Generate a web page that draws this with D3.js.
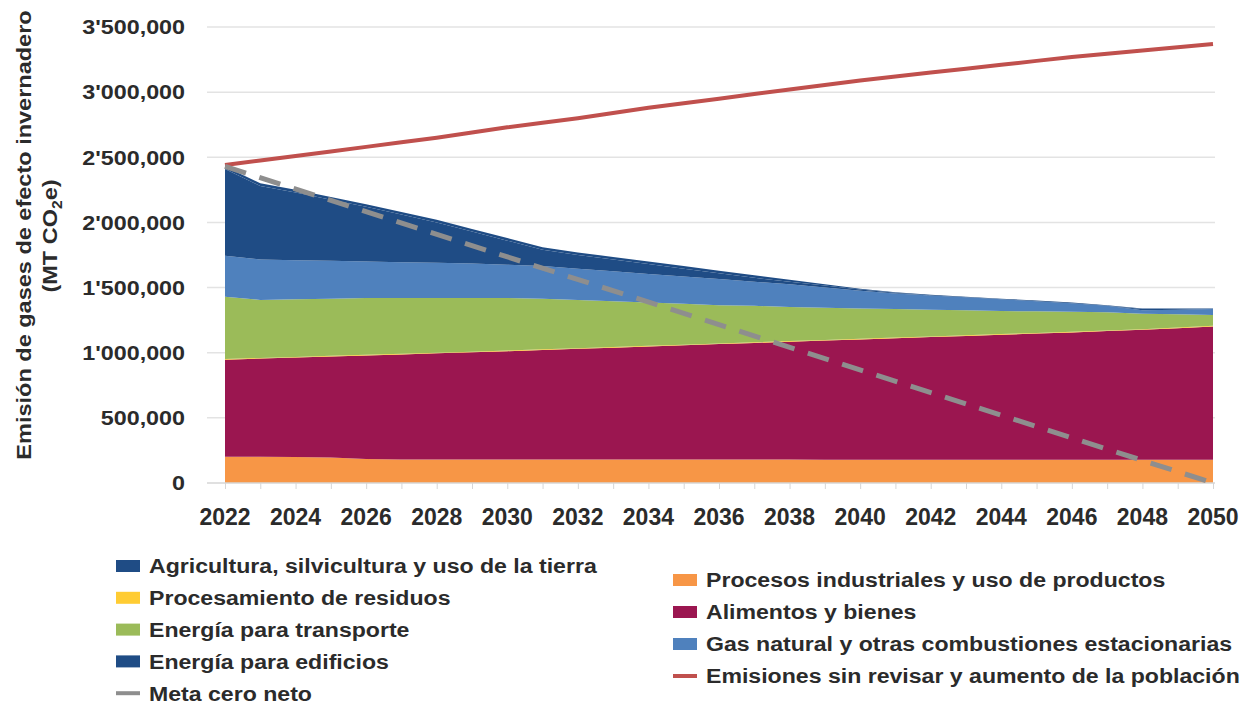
<!DOCTYPE html>
<html>
<head>
<meta charset="utf-8">
<title>Emisión de gases de efecto invernadero</title>
<script src="https://d3js.org/d3.v7.min.js"></script>
<style>
  body { margin: 0; background: #fff; }
  text { font-family: "Liberation Sans", Arial, sans-serif; }
</style>
</head>
<body>
<div id="chart"></div>
<script>
// years on the x axis
const years = d3.range(2022, 2051);
const yearTicks = d3.range(2022, 2051, 2);

// stacked series, thousands of MT CO2e
const industriales = [202,202,200,195,185,180,180,180,180,180,180,180,180,180,180,180,180,178,178,178,178,178,178,178,178,178,178,178,178];
const alimentos    = [744,753,763,776,794,807,815,823,832,841,850,859,868,877,886,895,904,915,924,933,942,951,960,969,978,988,998,1010,1024];
const residuos     = [5,5,5,5,5,5,5,5,5,5,5,5,5,5,5,5,5,5,5,5,5,5,5,5,5,5,5,5,5];
const transporte   = [479,445,442,439,436,428,420,412,403,389,370,351,332,313,294,280,261,247,233,219,205,191,177,166,154,139,119,102,83];
const gasNatural   = [315,310,300,290,280,275,270,265,255,250,240,230,220,210,200,185,175,155,135,120,110,100,90,77,65,50,25,35,45];
const edificios    = [665,565,520,470,420,365,310,245,185,125,105,90,75,60,45,30,20,15,10,5,0,0,0,0,0,0,10,5,0];
const agricultura  = [20,20,20,20,20,20,20,20,20,20,20,20,20,20,20,20,15,10,5,5,5,5,5,5,5,5,5,5,5];

// lines
const sinRevisar = [2440,2475,2510,2545,2580,2615,2650,2690,2730,2765,2800,2840,2880,2915,2950,2985,3020,3055,3090,3120,3150,3180,3210,3240,3270,3295,3320,3345,3370];
const metaYears = [2022, 2050];
const metaCero  = [2430, 0];

const yTicks = [0, 500, 1000, 1500, 2000, 2500, 3000, 3500];
const yTickLabels = ["0", "500,000", "1'000,000", "1'500,000", "2'000,000", "2'500,000", "3'000,000", "3'500,000"];

// stack order, bottom to top
const keys = ["industriales", "alimentos", "residuos", "transporte", "gasNatural", "edificios", "agricultura"];
const seriesData = { industriales, alimentos, residuos, transporte, gasNatural, edificios, agricultura };
const color = d3.scaleOrdinal()
  .domain(keys)
  .range(["#f79646", "#9b1650", "#ffcc33", "#9bbb59", "#4f81bd", "#1f4c85", "#1f4c85"]);

const labels = {
  agricultura: "Agricultura, silvicultura y uso de la tierra",
  residuos: "Procesamiento de residuos",
  transporte: "Energía para transporte",
  edificios: "Energía para edificios",
  meta: "Meta cero neto",
  industriales: "Procesos industriales y uso de productos",
  alimentos: "Alimentos y bienes",
  gasNatural: "Gas natural y otras combustiones estacionarias",
  sinRevisar: "Emisiones sin revisar y aumento de la población"
};

const width = 1251, height = 705;
const ink = "#2b2b2b";
const svg = d3.select("#chart").append("svg")
  .attr("width", width)
  .attr("height", height);

const x = d3.scaleLinear().domain([2022, 2050]).range([225, 1213]);
const y = d3.scaleLinear().domain([0, 3500]).range([483, 27]);

// gridlines
svg.append("g")
  .selectAll("line")
  .data(yTicks.slice(1))
  .enter().append("line")
    .attr("x1", 207).attr("x2", 1215)
    .attr("y1", d => y(d)).attr("y2", d => y(d))
    .style("stroke", "#e3e3e3")
    .style("stroke-width", 1.5);

// stacked areas
const table = years.map((yr, i) => {
  const row = { year: yr };
  keys.forEach(k => row[k] = seriesData[k][i]);
  return row;
});
const stacked = d3.stack().keys(keys)(table);
const area = d3.area()
  .x(d => x(d.data.year))
  .y0(d => y(d[0]))
  .y1(d => y(d[1]));

svg.append("g")
  .selectAll("path")
  .data(stacked)
  .enter().append("path")
    .attr("d", area)
    .style("fill", d => color(d.key));

// x axis
const xAxis = svg.append("g")
  .attr("transform", "translate(0," + y(0) + ")")
  .call(d3.axisBottom(x).tickValues(years).tickSize(6).tickFormat(""));
xAxis.select(".domain").attr("d", "M207,0H1215").style("stroke", "#d6d6d6").style("stroke-width", 1.5);
xAxis.selectAll(".tick line").style("stroke", "#d6d6d6");

svg.append("g")
  .selectAll("text")
  .data(yearTicks)
  .enter().append("text")
    .attr("x", d => x(d))
    .attr("y", 525)
    .attr("text-anchor", "middle")
    .style("font-size", "23px")
    .style("font-weight", "bold")
    .style("fill", ink)
    .text(d => d);

// y axis labels (slightly wide, like the source)
svg.append("g")
  .selectAll("text")
  .data(yTicks)
  .enter().append("text")
    .attr("transform", d => "translate(185," + y(d) + ") scale(1.11,1)")
    .attr("dy", "0.35em")
    .attr("text-anchor", "end")
    .style("font-size", "21px")
    .style("font-weight", "bold")
    .style("fill", ink)
    .text((d, i) => yTickLabels[i]);

// y axis title
svg.append("text")
  .attr("transform", "translate(24,235) rotate(-90) scale(1.12,1)")
  .attr("dy", "0.35em")
  .attr("text-anchor", "middle")
  .style("font-size", "21px")
  .style("font-weight", "bold")
  .style("fill", ink)
  .text("Emisión de gases de efecto invernadero");
const t2 = svg.append("text")
  .attr("transform", "translate(50,236) rotate(-90) scale(1.12,1)")
  .attr("text-anchor", "middle")
  .style("font-size", "21px")
  .style("font-weight", "bold")
  .style("fill", ink);
t2.append("tspan").attr("dy", "0.35em").text("(MT CO");
t2.append("tspan").attr("dy", 5).style("font-size", "14px").text("2");
t2.append("tspan").attr("dy", -5).text("e)");

// unrevised emissions line
const line = d3.line().x(d => x(d[0])).y(d => y(d[1]));
svg.append("path")
  .attr("d", line(years.map((yr, i) => [yr, sinRevisar[i]])))
  .style("fill", "none")
  .style("stroke", "#c0504d")
  .style("stroke-width", 4);

// net zero target
svg.append("path")
  .attr("d", line(metaYears.map((yr, i) => [yr, metaCero[i]])))
  .style("fill", "none")
  .style("stroke", "#8e8e8e")
  .style("stroke-width", 5)
  .style("stroke-dasharray", "22,14");

// legend
const leftItems = ["agricultura", "residuos", "transporte", "edificios", "meta"];
const rightItems = ["industriales", "alimentos", "gasNatural", "sinRevisar"];
function legendColumn(items, x0, y0, step) {
  const g = svg.append("g");
  items.forEach((k, i) => {
    const cy = y0 + i * step;
    if (k === "meta" || k === "sinRevisar") {
      g.append("line")
        .attr("x1", x0).attr("x2", x0 + 24)
        .attr("y1", cy).attr("y2", cy)
        .style("stroke", k === "meta" ? "#8e8e8e" : "#c0504d")
        .style("stroke-width", 4);
    } else {
      g.append("rect")
        .attr("x", x0).attr("y", cy - 6)
        .attr("width", 24).attr("height", 12)
        .style("fill", color(k));
    }
    g.append("text")
      .attr("transform", "translate(" + (x0 + 33) + "," + cy + ") scale(1.1,1)")
      .attr("dy", "0.35em")
      .style("font-size", "21px")
      .style("font-weight", "bold")
      .style("fill", ink)
      .text(labels[k]);
  });
}
legendColumn(leftItems, 116, 566, 31.8);
legendColumn(rightItems, 673, 580, 32);
</script>
</body>
</html>
